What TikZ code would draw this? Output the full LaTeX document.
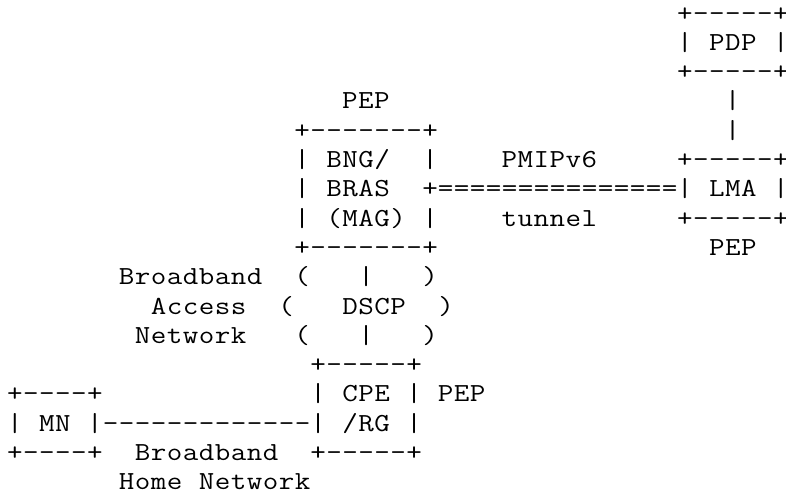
\documentclass[tikz,border=0pt]{standalone}
\usepackage{graphicx}
% fixed-width character cells (a '.' stands for a blank cell)
\def\cells#1{\cellsloop#1\relax}
\def\cellsloop#1{\ifx#1\relax\else\cellsone#1\expandafter\cellsloop\fi}
\def\cellsone#1{\ifx.#1\hbox to 16pt{}\else\hbox to 16pt{\hss\scalebox{1.16}[1]{#1}\hss}\fi}
\tikzset{seg/.style={anchor=base west, inner sep=0pt, outer sep=0pt,
  font=\ttfamily\fontsize{26}{29}\selectfont, text=black}}
\newcommand\putseg[4]{\node[seg] (#1) at ({7+15.95*#2},{-21-29.3*(#3-1)}) {\cells{#4}};}
\begin{document}
\begin{tikzpicture}[x=1pt,y=1pt]
\useasboundingbox[fill=white] (0,0) rectangle (786,-498);
\putseg{pdpT}{42}{1}{+-----+}
\putseg{pdp}{42}{2}{|.PDP.|}
\putseg{pdpB}{42}{3}{+-----+}
\putseg{pepB}{21}{4}{PEP}
\putseg{vA}{45}{4}{|}
\putseg{bngT}{18}{5}{+-------+}
\putseg{vB}{45}{5}{|}
\putseg{bng1}{18}{6}{|.BNG/..|}
\putseg{pmip}{31}{6}{PMIPv6}
\putseg{lmaT}{42}{6}{+-----+}
\putseg{bng2}{18}{7}{|.BRAS..+}
\putseg{tun}{27}{7}{===============}
\putseg{lma}{42}{7}{|.LMA.|}
\putseg{bng3}{18}{8}{|.(MAG).|}
\putseg{tunl}{31}{8}{tunnel}
\putseg{lmaB}{42}{8}{+-----+}
\putseg{bngB}{18}{9}{+-------+}
\putseg{pepL}{44}{9}{PEP}
\putseg{ban1}{7}{10}{Broadband}
\putseg{acc1}{18}{10}{(...|...)}
\putseg{ban2}{9}{11}{Access}
\putseg{acc2}{17}{11}{(...DSCP..)}
\putseg{ban3}{8}{12}{Network}
\putseg{acc3}{18}{12}{(...|...)}
\putseg{cpeT}{19}{13}{+-----+}
\putseg{mnT}{0}{14}{+----+}
\putseg{cpe1}{19}{14}{|.CPE.|}
\putseg{pepC}{27}{14}{PEP}
\putseg{mn}{0}{15}{|.MN.|}
\putseg{home}{6}{15}{-------------}
\putseg{cpe2}{19}{15}{|./RG.|}
\putseg{mnB}{0}{16}{+----+}
\putseg{bhn1}{8}{16}{Broadband}
\putseg{cpeB}{19}{16}{+-----+}
\putseg{bhn2}{7}{17}{Home.Network}
\end{tikzpicture}
\end{document}
